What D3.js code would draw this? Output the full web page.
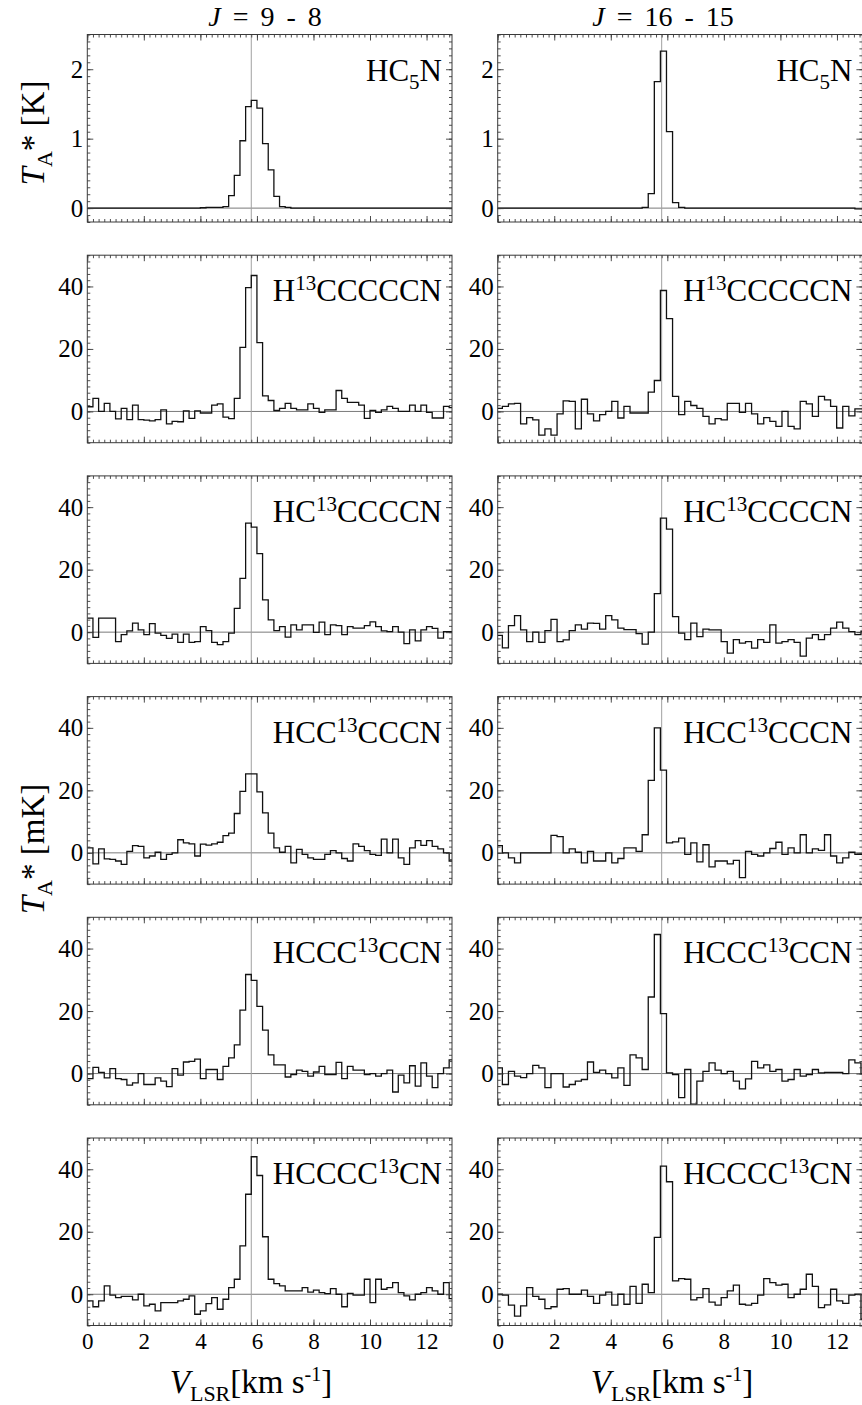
<!DOCTYPE html>
<html>
<head>
<meta charset="utf-8">
<script src="https://cdn.jsdelivr.net/npm/d3@7"></script>
<style>
  body { margin: 0; background: #fff; }
  svg text { font-family: "Liberation Serif", "Times New Roman", serif; fill: #000; }
</style>
</head>
<body>
<div id="chart"></div>
<script>
// --- data -----------------------------------------------------------------
// channel grid of each transition (km/s): first channel edge and channel width
const transitions = ['9 - 8', '16 - 15'];
const chanStart = [0, -0.05];
const chanWidth = [0.2, 0.215];
const vsys = 5.8;

// molecule labels: [before, superscript/subscript, after, kind]
const molecules = [
    ['HC', '5', 'N', 'sub'],
    ['H', '13', 'CCCCCN', 'sup'],
    ['HC', '13', 'CCCCN', 'sup'],
    ['HCC', '13', 'CCCN', 'sup'],
    ['HCCC', '13', 'CCN', 'sup'],
    ['HCCCC', '13', 'CN', 'sup']
];

// J = 9 - 8 spectra (row 1 in K, the others in mK)
const hc5n98 = [0,0,0,0,0,0,0,0,0,0, 0,0,0,0,0,0,0,0,0,0,
    0.005,0.01,0.01,0.01,0.02,0.18,0.47,0.97,1.46,1.55,
    1.44,0.93,0.55,0.17,0.02,0.01,0,0,0,0, 0,0,0,0,0,0,0,0,0,0,
    0,0,0,0,0,0,0,0,0,0, 0,0,0,0,0];
const h13c98 = [1.5,4.2,0,2.6,0,-2.4,1,-2.6,2,-2.6,
    -2.8,-3,-2.6,0.5,-4,-3.2,-3.3,0.2,-2.2,0.2,
    -0.5,-0.5,2,2.4,-1.8,-2.3,4.2,20.5,39.6,43.5,
    22,5,3.5,0.3,1,2.6,1,0.5,0.5,2.4,
    1,-0.3,0.5,0.5,6.7,4.2,2.9,2.9,2,-2.2,
    0.3,-0.3,0.5,1.6,1,0,0,2,0,2,
    -0.3,-2.1,-2.1,1.6,1.2];
const hc13c98 = [4.5,-1.7,4.5,4.5,4.5,-3,-0.8,0.4,2.9,0.7,
    -0.8,2.7,-0.3,-1,-2,-0.6,-3.3,-0.6,-3.3,-3,
    1.8,0.5,-3.3,-4,-3,-0.3,7.6,17.2,34.9,33.6,
    25.1,10.3,3.9,0.5,1.8,-1.6,2.3,0.7,2.3,2.3,
    -0.1,3.2,-0.8,2.3,2.1,-0.8,1.8,1.3,1.3,2.1,
    3.3,1.8,0.4,0.2,1.8,0,-3.7,0.7,-2.8,0.7,
    1.8,1.2,-1.9,0.2,0.2];
const hcc13c98 = [1.6,-3.5,1.3,-1.9,-2.1,-2.6,-3.7,0.5,2.3,2.1,
    -1.6,-1,0.2,-2.1,-0.5,0,4.2,3.2,2.9,-1,
    2.8,2.5,2.9,3.4,5.5,6.3,12.6,19.7,25.3,25.3,
    19.5,12.8,6.3,1.6,0.2,2.1,-3.2,1.1,-0.5,-1.6,
    -2.1,-2.1,-0.5,0.7,0,-1.8,-2.6,2.9,2.1,0.7,
    -0.5,-0.8,4.4,0,4.4,-1.6,-3.7,1.6,3.9,2.4,
    3.9,2.1,1.3,0,-2.6];
const hccc13c98 = [-1.6,2,0.4,-1.4,1.6,-1.6,-1.9,-3.7,-3,0,
    -3.5,-3.5,-1.4,-2.4,-4.2,1.6,-0.5,3.7,3.9,4.6,
    -1.6,1.3,1.3,-1.9,2.3,5,9.2,20.3,31.7,29.8,
    21.5,13.9,6,2.8,2.8,-1.1,-0.3,1.1,0.7,-0.8,
    0.5,2.3,-0.3,-0.3,3.6,-1.6,2.3,1.1,1.1,-0.3,
    0,-0.8,0,1.1,-5.9,-0.5,-3,2.5,-4,3.4,
    -0.8,-4.5,0,1.8,4.4];
const hcccc13c98 = [-2.1,-4,-2.1,2.7,-0.3,-1.1,-0.7,-0.7,-1.8,0,
    -3.7,-3.2,-5.3,-2.7,-2.7,-2.7,-2.1,-1.6,-0.5,-6.4,
    -5.3,-3,-1.1,-4.8,-1.6,2.1,4.8,15.5,32,44,
    38,18.4,4.8,3.4,2.7,1.1,1.1,1.1,2.1,0.7,
    1.3,0.5,0.2,1.8,0,-4,0.3,-0.3,-0.3,4.8,
    -2.7,4.8,1.6,2.1,3.7,0.5,-0.5,-1.8,0,0.5,
    2.1,1.1,0,3.7,-1.4];

// J = 16 - 15 spectra
const hc5n1615 = [0,0,0,0,0,0,0,0,0,0, 0,0,0,0,0,0,0,0,0,0,
    0,0,0,0,0.01,0.21,1.82,2.26,1.1,0.08,
    0.01,0,0,0,0,0,0,0,0,0, 0,0,0,0,0,0,0,0,0,0,
    0,0,0,0,0,0,0,0,0,-0.01, -0.01];
const h13c1615 = [1,1.6,2.4,2.6,-4,-2,-2.7,-7.6,-5.6,-7.6,
    -0.8,3.4,3.2,-5.6,3.9,-0.8,-3,-1,0,3.2,
    -2.1,1.6,-0.5,-0.5,-0.5,6.2,9.9,38.7,29.7,4.8,
    -1,3.2,1.9,1,-1.6,-4,-2.3,-2.7,2.6,2.6,
    -0.3,2.6,-0.8,-4,-2,-3.2,-4.8,0,-4.8,-5.6,
    3.2,2.4,-1.6,4.8,3.7,1.6,-5.3,1.6,-1.4,0.8,
    0.8];
const hc13c1615 = [-1,-5,2.1,5.3,0.7,-3,0,-3.3,0.5,4.1,
    -3,-2.5,0.5,2.3,1,2.9,2.8,1,5.3,3.9,
    1.3,0.8,0.8,-0.5,-3.8,0,12.3,36.5,33,5,
    -0.3,-2.4,2.9,-1.4,1,0.7,0.7,-3,-6.7,-2.4,
    -3.5,-3,-5.1,-2.4,-3.3,2.3,-3.5,-3,-2.4,-3.3,
    -7.7,-1.9,-0.8,-2.4,-0.8,1.3,3.2,1.3,0.2,-0.8,
    0.3];
const hcc13c1615 = [2.3,0,-1.6,-3.2,0,0,0,0,0,5.6,
    5.2,0,1.3,0.2,-3.2,0.5,-2.6,-2.6,0,-3.2,
    -1.8,1.6,1.6,0.5,5.8,23.2,40,26.5,3.2,3.5,
    4.7,-0.5,3.2,-2.9,2.6,-4.5,-2.6,-2.6,-3.5,-2.4,
    -7.9,0.5,-0.5,-1,0,1.4,3.4,-0.5,1.6,0,
    5.8,0,1.3,0.8,5.8,-1,-3.2,-1.6,0.2,-0.5,
    -0.5];
const hccc13c1615 = [1.8,-3.5,0.7,-0.8,-1.3,0,2.6,1.8,-4.5,0,
    0,-4.3,-3.5,-2.4,-1.9,3.7,0.4,1.1,0,-1.4,
    1.8,-3.8,6,5,1.3,24.5,44.5,19.2,0.2,-0.3,
    -7.7,1.3,-9.8,-2.4,0.7,3.4,1.1,0,0.7,-2.4,
    -4.9,-1.7,3.9,1.8,2.8,0.7,1.3,-2.4,-1.9,1.3,
    -0.8,-0.3,1.3,0.2,0.4,0.4,0.4,0,4.4,3.4,
    0];
const hcccc13c1615 = [0,-0.3,-3.5,-7,-3.7,2.1,-0.7,-1.6,-4.6,-4,
    1.6,1.8,0,0,1.3,-0.7,-2.9,-0.3,0.7,-3.5,
    0,-3.2,2.5,-2.9,3.2,0.5,18.2,41,36,4.3,
    5,4.8,-1.8,-1.1,1.8,-2.5,-3.5,-1.1,1.1,2.9,
    -3.2,-3.5,-2.9,-0.3,5,3.7,2.9,3.2,-1.1,0,
    1.6,6.4,2.5,-4.3,-3.4,1.6,-2.1,-2.9,-0.3,0,
    -8];

const spectra = [
    [hc5n98, h13c98, hc13c98, hcc13c98, hccc13c98, hcccc13c98],
    [hc5n1615, h13c1615, hc13c1615, hcc13c1615, hccc13c1615, hcccc13c1615]
];

// axis ranges and ticks
const xDomain = [0, 12.9];
const xMajor = [0, 2, 4, 6, 8, 10, 12];
const yDomains = [[-0.2, 2.5], [-10, 50]];
const yMajors = [[0, 1, 2], [0, 20, 40]];
const yMinorStep = [0.1, 2];

// --- layout ---------------------------------------------------------------
const W = 862, H = 1405;
const colLeft = [87.3, 497.7];
const panelW = 364.7;
const panelH = 187.5;
const rowTop0 = 34.5, rowPitch = 220.7;
const titleX = [265, 663];
const xLabelX = [251, 672];

const svg = d3.select('#chart')
    .append('svg')
    .attr('width', W)
    .attr('height', H)
    .attr('font-family', '"Liberation Serif", "Times New Roman", serif');

const xMinor = d3.range(0, 12.91, 0.2);

function styleAxis(sel) {
    sel.select('.domain').remove();
    sel.selectAll('.tick line').attr('stroke', '#3a3a3a').attr('stroke-width', 0.9);
    sel.attr('font-family', null).attr('font-size', null);
}

spectra.forEach((colSpectra, ci) => {
    const x = d3.scaleLinear()
        .domain(xDomain)
        .range([colLeft[ci], colLeft[ci] + panelW]);

    colSpectra.forEach((vals, ri) => {
        const top = rowTop0 + ri * rowPitch;
        const bottom = top + panelH;
        const kind = ri === 0 ? 0 : 1;
        const y = d3.scaleLinear()
            .domain(yDomains[kind])
            .range([bottom, top]);
        const yMinor = d3.range(yDomains[kind][0], yDomains[kind][1] + 1e-6, yMinorStep[kind]);

        const g = svg.append('g');
        const clipId = `clip-${ci}-${ri}`;
        g.append('clipPath').attr('id', clipId)
            .append('rect')
            .attr('x', x.range()[0]).attr('y', top)
            .attr('width', panelW).attr('height', panelH);

        // zero line and systemic velocity
        g.append('line')
            .attr('x1', x.range()[0]).attr('x2', x.range()[1])
            .attr('y1', y(0)).attr('y2', y(0))
            .attr('stroke', '#7a7a7a').attr('stroke-width', 1);
        g.append('line')
            .attr('x1', x(vsys)).attr('x2', x(vsys))
            .attr('y1', top).attr('y2', bottom)
            .attr('stroke', '#a0a0a0').attr('stroke-width', 1);

        // spectrum as histogram steps
        const pts = vals.map((v, i) => [chanStart[ci] + i * chanWidth[ci], v]);
        pts.push([chanStart[ci] + vals.length * chanWidth[ci], vals[vals.length - 1]]);
        const line = d3.line()
            .x(d => x(d[0]))
            .y(d => y(d[1]))
            .curve(d3.curveStepAfter);
        g.append('path')
            .datum(pts)
            .attr('clip-path', `url(#${clipId})`)
            .attr('fill', 'none')
            .attr('stroke', '#111')
            .attr('stroke-width', 1.3)
            .attr('d', line);

        // frame
        g.append('rect')
            .attr('x', x.range()[0]).attr('y', top)
            .attr('width', panelW).attr('height', panelH)
            .attr('fill', 'none')
            .attr('stroke', '#3a3a3a')
            .attr('stroke-width', 1);

        // minor ticks on all four sides
        g.append('g').attr('transform', `translate(0,${bottom})`)
            .call(d3.axisBottom(x).tickValues(xMinor).tickSize(-3).tickFormat(''))
            .call(styleAxis);
        g.append('g').attr('transform', `translate(0,${top})`)
            .call(d3.axisTop(x).tickValues(xMinor).tickSize(-3).tickFormat(''))
            .call(styleAxis);
        g.append('g').attr('transform', `translate(${x.range()[0]},0)`)
            .call(d3.axisLeft(y).tickValues(yMinor).tickSize(-3).tickFormat(''))
            .call(styleAxis);
        g.append('g').attr('transform', `translate(${x.range()[1]},0)`)
            .call(d3.axisRight(y).tickValues(yMinor).tickSize(-3).tickFormat(''))
            .call(styleAxis);

        // major ticks
        const isBottom = ri === colSpectra.length - 1;
        const xb = g.append('g').attr('transform', `translate(0,${bottom})`)
            .call(d3.axisBottom(x).tickValues(xMajor).tickSize(-6).tickPadding(7)
                .tickFormat(isBottom ? d3.format('d') : ''))
            .call(styleAxis);
        xb.selectAll('text').attr('font-size', 23);
        g.append('g').attr('transform', `translate(0,${top})`)
            .call(d3.axisTop(x).tickValues(xMajor).tickSize(-6).tickFormat(''))
            .call(styleAxis);
        const yl = g.append('g').attr('transform', `translate(${x.range()[0]},0)`)
            .call(d3.axisLeft(y).tickValues(yMajors[kind]).tickSize(-6).tickPadding(4)
                .tickFormat(d3.format('d')))
            .call(styleAxis);
        yl.selectAll('text').attr('font-size', 25);
        g.append('g').attr('transform', `translate(${x.range()[1]},0)`)
            .call(d3.axisRight(y).tickValues(yMajors[kind]).tickSize(-6).tickFormat(''))
            .call(styleAxis);

        // molecule label
        const m = molecules[ri];
        const lab = g.append('text')
            .attr('x', x.range()[1] - 10)
            .attr('y', top + 46)
            .attr('text-anchor', 'end')
            .attr('font-size', 31);
        const shift = m[3] === 'sub' ? 8 : -11;
        lab.append('tspan').text(m[0]);
        lab.append('tspan').attr('dy', shift).attr('font-size', 21).text(m[1]);
        lab.append('tspan').attr('dy', -shift).text(m[2]);
    });

    // column title
    const t = svg.append('text')
        .attr('x', titleX[ci]).attr('y', 26)
        .attr('text-anchor', 'middle')
        .attr('font-size', 28)
        .attr('word-spacing', 5)
        .style('white-space', 'pre');
    t.append('tspan').attr('font-style', 'italic').text('J');
    t.append('tspan').text(` = ${transitions[ci]}`);

    // velocity axis label
    const xl = svg.append('text')
        .attr('x', xLabelX[ci]).attr('y', 1393)
        .attr('text-anchor', 'middle')
        .attr('font-size', 33);
    xl.append('tspan').attr('font-style', 'italic').text('V');
    xl.append('tspan').attr('dy', 8).attr('font-size', 22).text('LSR');
    xl.append('tspan').attr('dy', -8).text('[km s');
    xl.append('tspan').attr('dy', -12).attr('font-size', 20).text('-1');
    xl.append('tspan').attr('dy', 12).text(']');
});

// temperature axis labels
[[133, '[K]'], [849, '[mK]']].forEach(([cy, unit]) => {
    const tl = svg.append('text')
        .attr('transform', `translate(44,${cy}) rotate(-90)`)
        .attr('text-anchor', 'middle')
        .attr('font-size', 33);
    tl.append('tspan').attr('font-style', 'italic').text('T');
    tl.append('tspan').attr('dy', 8).attr('font-size', 22).text('A');
    tl.append('tspan').attr('dy', -8).text(`* ${unit}`);
});
</script>
</body>
</html>
